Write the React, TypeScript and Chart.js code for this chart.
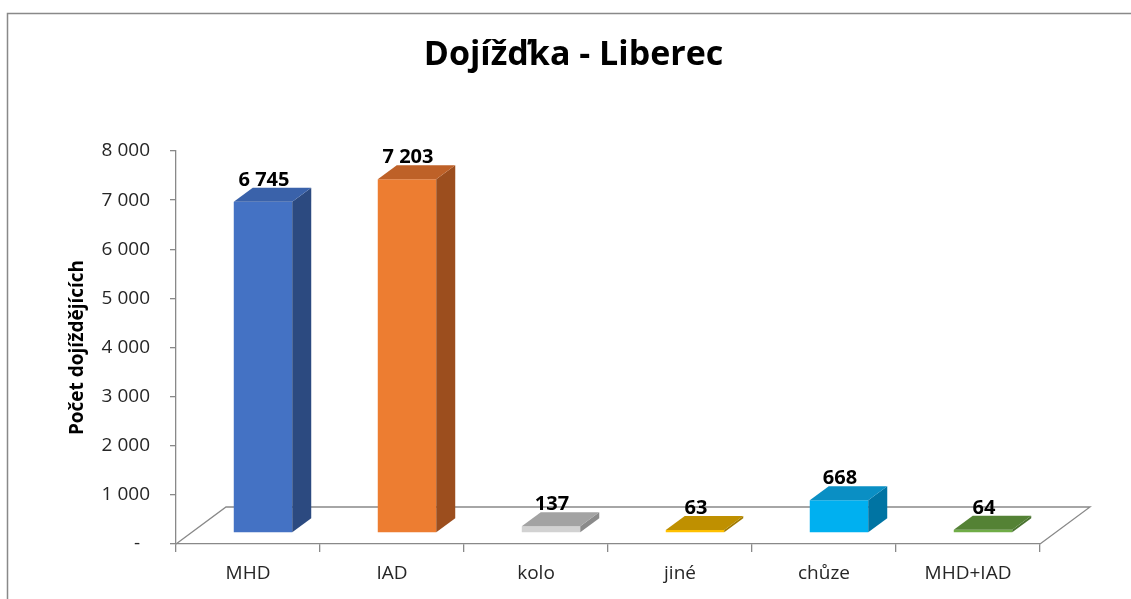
import React, { useEffect, useRef } from "react";
import { Chart, registerables } from "chart.js";

Chart.register(...registerables);

// ---- data ----
const CATEGORIES = ["MHD", "IAD", "kolo", "jiné", "chůze", "MHD+IAD"];
const VALUES = [6745, 7203, 137, 63, 668, 64];
const Y_MIN = 0;
const Y_MAX = 8000;
const Y_STEP = 1000;
const TITLE = "Dojížďka - Liberec";
const Y_TITLE = "Počet dojíždějících";

// ---- styles ----
const FRONT_COLORS = ["#4472C4", "#ED7D31", "#D2D2D2", "#FFC000", "#00B0F0", "#70AD47"];
const TOP_COLORS = ["#3A62AA", "#BE6128", "#A3A3A3", "#BF9000", "#0A8FC4", "#548235"];
const SIDE_COLORS = ["#2C4A80", "#9C4E1E", "#8A8A8A", "#A07A00", "#0074A3", "#4A7330"];
const FONT = "'Open Sans', 'DejaVu Sans', sans-serif";
const AXIS_GRAY = "#898989";
const LABEL_COLOR = "#262626";

// 3D geometry (pixels)
const BAR_SHIFT_X = 15;
const BAR_SHIFT_Y = -11;
const DEPTH_X = 19;
const DEPTH_Y = -14;
const FLOOR_X = 50;
const FLOOR_Y = -37;

const fmt = (v: number) =>
  v === 0 ? "-  " : String(v).replace(/\B(?=(\d{3})+(?!\d))/g, " ");

const threeD = {
  id: "threeD",
  beforeDraw(chart: any) {
    const { ctx, width, height } = chart;
    ctx.save();
    ctx.fillStyle = "#ffffff";
    ctx.fillRect(0, 0, width, height);
    // outer frame
    ctx.strokeStyle = AXIS_GRAY;
    ctx.lineWidth = 1.5;
    ctx.beginPath();
    ctx.moveTo(7.5, height + 2);
    ctx.lineTo(7.5, 13.5);
    ctx.lineTo(width + 2, 13.5);
    ctx.stroke();
    // title
    ctx.fillStyle = "#000000";
    ctx.font = `bold 34px ${FONT}`;
    ctx.textAlign = "center";
    ctx.textBaseline = "middle";
    ctx.fillText(TITLE, 573.5, 55);
    ctx.restore();
  },
  beforeDatasetsDraw(chart: any) {
    const { ctx, chartArea } = chart;
    const { left, right, bottom } = chartArea;
    ctx.save();
    ctx.strokeStyle = AXIS_GRAY;
    ctx.lineWidth = 1.3;
    ctx.beginPath();
    ctx.moveTo(left, bottom);
    ctx.lineTo(left + FLOOR_X, bottom + FLOOR_Y);
    ctx.lineTo(right + FLOOR_X, bottom + FLOOR_Y);
    ctx.lineTo(right, bottom);
    ctx.stroke();
    ctx.restore();
    ctx.save();
    ctx.translate(BAR_SHIFT_X, BAR_SHIFT_Y);
  },
  afterDatasetsDraw(chart: any) {
    const { ctx } = chart;
    ctx.restore();
    const meta = chart.getDatasetMeta(0);
    ctx.save();
    meta.data.forEach((el: any, i: number) => {
      const p = el.getProps(["x", "y", "base", "width"], true);
      const L = p.x - p.width / 2 + BAR_SHIFT_X;
      const R = p.x + p.width / 2 + BAR_SHIFT_X;
      const T = p.y + BAR_SHIFT_Y;
      const B = p.base + BAR_SHIFT_Y;
      // side
      ctx.fillStyle = SIDE_COLORS[i];
      ctx.beginPath();
      ctx.moveTo(R, T);
      ctx.lineTo(R + DEPTH_X, T + DEPTH_Y);
      ctx.lineTo(R + DEPTH_X, B + DEPTH_Y);
      ctx.lineTo(R, B);
      ctx.closePath();
      ctx.fill();
      // top
      ctx.fillStyle = TOP_COLORS[i];
      ctx.beginPath();
      ctx.moveTo(L, T);
      ctx.lineTo(L + DEPTH_X, T + DEPTH_Y);
      ctx.lineTo(R + DEPTH_X, T + DEPTH_Y);
      ctx.lineTo(R, T);
      ctx.closePath();
      ctx.fill();
      // label
      ctx.fillStyle = "#000000";
      ctx.font = `bold 20px ${FONT}`;
      ctx.textAlign = "center";
      ctx.textBaseline = "alphabetic";
      ctx.fillText(fmt(VALUES[i]), p.x + BAR_SHIFT_X + 1, T + DEPTH_Y - 2);
    });
    ctx.restore();
  },
};

export default function App() {
  const ref = useRef<HTMLCanvasElement | null>(null);
  useEffect(() => {
    if (!ref.current) return;
    const chart = new Chart(ref.current, {
      type: "bar",
      data: {
        labels: CATEGORIES,
        datasets: [
          {
            data: VALUES,
            backgroundColor: FRONT_COLORS,
            borderWidth: 0,
            categoryPercentage: 1,
            barPercentage: 0.406,
            clip: false as any,
          },
        ],
      },
      options: {
        responsive: false,
        animation: false,
        events: [],
        layout: { padding: { top: 151, left: 0, right: 91, bottom: 0 } },
        plugins: {
          legend: { display: false },
          title: { display: false },
          tooltip: { enabled: false },
        },
        scales: {
          x: {
            grid: {
              offset: true,
              drawOnChartArea: false,
              drawTicks: true,
              tickLength: 8,
              color: AXIS_GRAY,
              lineWidth: 1.3,
            },
            border: { display: true, color: AXIS_GRAY, width: 1.3 },
            ticks: {
              color: LABEL_COLOR,
              font: { family: FONT, size: 19 },
              padding: 10,
              maxRotation: 0,
              autoSkip: false,
            },
            afterFit: (scale: any) => {
              scale.height = 55;
            },
          },
          y: {
            min: Y_MIN,
            max: Y_MAX,
            grid: {
              drawOnChartArea: false,
              drawTicks: true,
              tickLength: 6,
              color: AXIS_GRAY,
              lineWidth: 1.3,
            },
            border: { display: true, color: AXIS_GRAY, width: 1.3 },
            ticks: {
              stepSize: Y_STEP,
              color: LABEL_COLOR,
              font: { family: FONT, size: 19 },
              padding: 20,
              callback: (v: any) => fmt(Number(v)),
            },
            title: {
              display: true,
              text: Y_TITLE,
              color: "#000000",
              font: { family: FONT, size: 19, weight: "bold" },
              padding: { top: 66, bottom: 0 },
            },
            afterFit: (scale: any) => {
              scale.width = 176;
            },
          },
        },
      },
      plugins: [threeD],
    });
    return () => chart.destroy();
  }, []);
  return (
    <div style={{ position: "fixed", left: 0, top: 0, width: 1131, height: 599, background: "#fff" }}>
      <canvas ref={ref} width={1131} height={599} style={{ display: "block" }} />
    </div>
  );
}
